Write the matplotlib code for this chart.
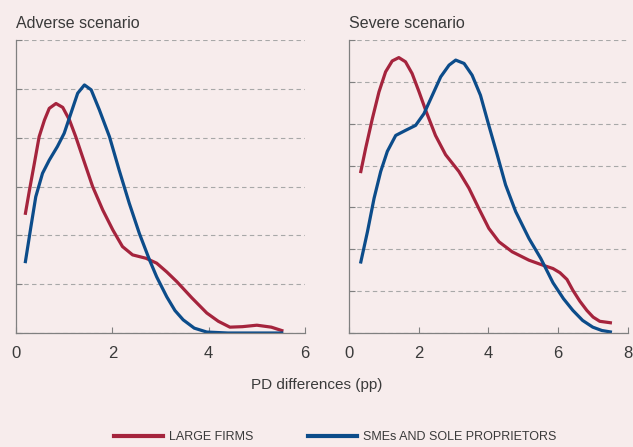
import numpy as np
import matplotlib
matplotlib.use("Agg")
import matplotlib.pyplot as plt
from matplotlib.lines import Line2D

# Density curves (x = PD difference in pp, y = density)
adv_large_x = [0.19, 0.28, 0.38, 0.48, 0.59, 0.69, 0.83, 0.97, 1.11, 1.24, 1.38, 1.59, 1.80, 2.01, 2.21, 2.42, 2.70,
               2.92, 3.13, 3.34, 3.65, 3.96, 4.2, 4.44, 4.7, 5.0, 5.3, 5.55]
adv_large_y = [0.242, 0.293, 0.347, 0.402, 0.436, 0.46, 0.470, 0.462, 0.436, 0.402, 0.361, 0.30, 0.252, 0.211, 0.177,
               0.160, 0.153, 0.143, 0.125, 0.105, 0.072, 0.041, 0.024, 0.012, 0.013, 0.016, 0.012, 0.004]

adv_sme_x = [0.19, 0.31, 0.41, 0.55, 0.69, 0.86, 1.00, 1.14, 1.28, 1.42, 1.56, 1.73, 1.94, 2.14, 2.35, 2.56, 2.77,
             2.92, 3.13, 3.3, 3.47, 3.7, 3.96, 4.4, 5.55]
adv_sme_y = [0.143, 0.218, 0.279, 0.327, 0.354, 0.382, 0.409, 0.45, 0.491, 0.508, 0.498, 0.457, 0.402, 0.334, 0.266,
             0.204, 0.15, 0.115, 0.074, 0.046, 0.027, 0.01, 0.002, 0.0, 0.0]

sev_large_x = [0.33, 0.48, 0.67, 0.86, 1.05, 1.24, 1.43, 1.62, 1.81, 2.01, 2.20, 2.48, 2.77, 3.15, 3.44, 3.72, 4.01,
               4.30, 4.68, 5.16, 5.56, 5.85, 6.05, 6.25, 6.42, 6.62, 6.82, 7.0, 7.19, 7.54]
sev_large_y = [0.191, 0.221, 0.256, 0.288, 0.312, 0.325, 0.329, 0.324, 0.31, 0.288, 0.266, 0.236, 0.213, 0.193, 0.173,
               0.149, 0.125, 0.109, 0.097, 0.087, 0.081, 0.077, 0.072, 0.064, 0.051, 0.038, 0.027, 0.019, 0.014, 0.012]

sev_sme_x = [0.33, 0.53, 0.72, 0.91, 1.10, 1.34, 1.62, 1.91, 2.15, 2.39, 2.63, 2.87, 3.06, 3.30, 3.53, 3.77, 4.01,
             4.25, 4.49, 4.78, 5.16, 5.5, 5.85, 6.15, 6.42, 6.7, 6.99, 7.25, 7.54]
sev_sme_y = [0.083, 0.121, 0.161, 0.193, 0.217, 0.236, 0.242, 0.248, 0.262, 0.284, 0.306, 0.32, 0.326, 0.322, 0.308,
             0.284, 0.248, 0.213, 0.177, 0.145, 0.113, 0.089, 0.06, 0.041, 0.027, 0.015, 0.007, 0.003, 0.001]

titles = ["Adverse scenario", "Severe scenario"]
series_names = ["LARGE FIRMS", "SMEs AND SOLE PROPRIETORS"]

bg = "#F7ECEC"
red = "#A5243D"
blue = "#0C4C8A"
txt = "#3a3a3a"

plt.rcParams['font.family'] = ['Liberation Sans', 'DejaVu Sans']

fig = plt.figure(figsize=(6.33, 4.47), dpi=100, facecolor=bg)
ax1 = fig.add_axes([0.0253, 0.255, 0.4566, 0.6555])
ax2 = fig.add_axes([0.5513, 0.255, 0.4408, 0.6555])

panels = [
    (ax1, adv_large_x, adv_large_y, adv_sme_x, adv_sme_y, 6, 0.6, 0.1, [0, 2, 4, 6]),
    (ax2, sev_large_x, sev_large_y, sev_sme_x, sev_sme_y, 8, 0.35, 0.05, [0, 2, 4, 6, 8]),
]

for i, (ax, lx, ly, sx, sy, xmax, ymax, ystep, xt) in enumerate(panels):
    ax.set_facecolor(bg)
    ax.plot(lx, ly, color=red, lw=2.3, solid_capstyle='butt', solid_joinstyle='round')
    ax.plot(sx, sy, color=blue, lw=2.3, solid_capstyle='butt', solid_joinstyle='round')
    ax.set_xlim(0, xmax)
    ax.set_ylim(0, ymax)
    ax.set_xticks(xt)
    ax.set_yticks(np.arange(0, ymax + ystep / 2, ystep))
    ax.set_yticklabels([])
    ax.yaxis.grid(True, color="#a8a8a8", linestyle=(0, (4, 3)), lw=0.8)
    ax.set_axisbelow(True)
    for s in ['top', 'right']:
        ax.spines[s].set_visible(False)
    for s in ['left', 'bottom']:
        ax.spines[s].set_color("#808080")
        ax.spines[s].set_linewidth(0.9)
    ax.tick_params(axis='x', direction='in', length=4, color="#808080", labelsize=12, labelcolor=txt, pad=9)
    ax.tick_params(axis='y', direction='in', length=4, color="#808080")
    ax.set_title(titles[i], loc='left', fontsize=11.5, color=txt, pad=9)

fig.text(0.5, 0.138, "PD differences (pp)", ha='center', va='center', fontsize=11, color=txt)

handles = [Line2D([], [], color=red, lw=3), Line2D([], [], color=blue, lw=3)]
leg = fig.legend(handles, series_names, loc='center', bbox_to_anchor=(0.53, 0.022), ncol=2,
                 frameon=False, handlelength=3.9, columnspacing=4.4, handletextpad=0.5,
                 prop={'size': 9})
for t in leg.get_texts():
    t.set_color(txt)

fig.savefig("out.png", dpi=100, facecolor=bg)
